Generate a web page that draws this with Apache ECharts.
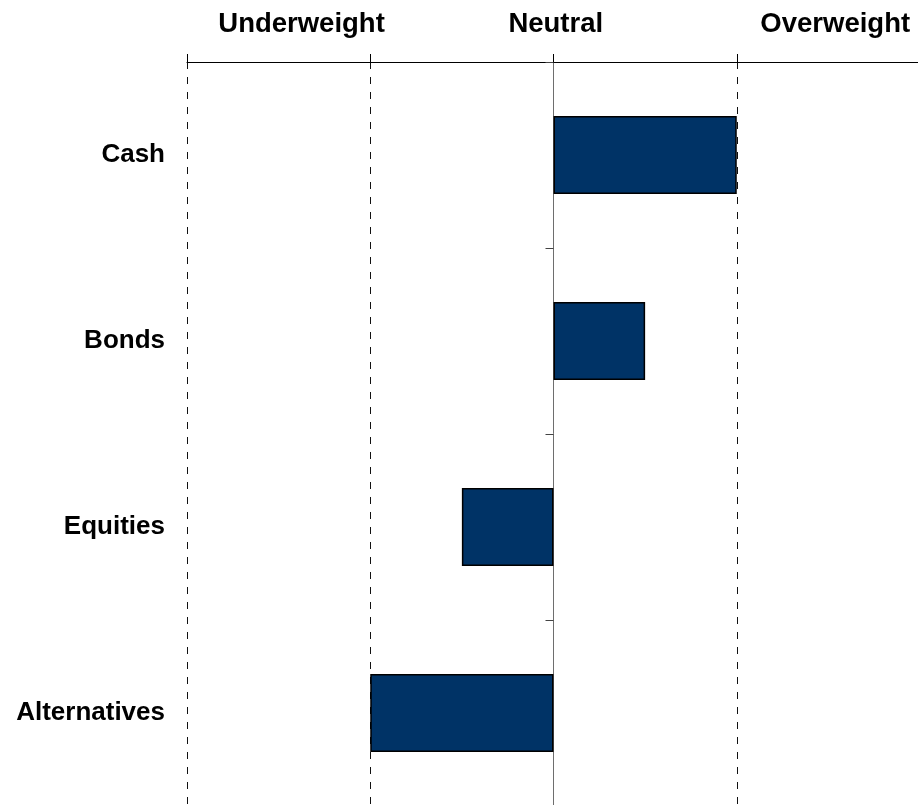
<!DOCTYPE html>
<html>
<head>
<meta charset="utf-8">
<script src="https://cdn.jsdelivr.net/npm/echarts@6/dist/echarts.min.js"></script>
<style>
  html, body { margin: 0; padding: 0; background: #fff; }
  #chart { width: 918px; height: 805px; }
</style>
</head>
<body>
<div id="chart"></div>
<script>
// Asset classes, top to bottom
const categories = ['Cash', 'Bonds', 'Equities', 'Alternatives'];
// Positioning relative to neutral (-2 .. 2)
const positioning = [1, 0.5, -0.5, -1];
// Header captions along the top axis
const headerLabels = ['Underweight', 'Neutral', 'Overweight'];

// where each caption sits on the scale
const headerAt = [-1.375, 0.0125, 1.5375];

const FONT = '"Liberation Sans", Arial, Helvetica, sans-serif';
const chart = echarts.init(document.getElementById('chart'), null, { renderer: 'canvas' });

chart.setOption({
  animation: false,
  backgroundColor: '#ffffff',
  grid: {
    left: 187, width: 733, top: 62, height: 744,
    containLabel: false,
    outerBoundsMode: 'none'
  },
  xAxis: [
    {
      type: 'value',
      position: 'top',
      min: -2, max: 2, interval: 1,
      axisLine: { show: true, onZero: false, lineStyle: { color: '#000', width: 1 } },
      axisTick: { show: true, inside: false, length: 8, lineStyle: { color: '#000', width: 1 } },
      axisLabel: { show: false },
      splitLine: {
        show: true,
        lineStyle: {
          color: ['#111', '#111', 'rgba(0,0,0,0)', '#111', '#111'],
          width: 1,
          type: [7, 8]
        }
      }
    },
    {
      type: 'value',
      position: 'top',
      min: -2, max: 2, interval: 0.0125,
      axisLine: { show: false, onZero: false },
      axisTick: { show: false },
      splitLine: { show: false },
      axisLabel: {
        show: true,
        margin: 24,
        fontFamily: FONT,
        fontWeight: 'bold',
        fontSize: 27.5,
        color: '#000',
        formatter: function (v) {
          for (let i = 0; i < headerAt.length; i++) {
            if (Math.abs(v - headerAt[i]) < 1e-6) return headerLabels[i];
          }
          return '';
        }
      }
    }
  ],
  yAxis: [
    {
      type: 'category',
      inverse: true,
      data: categories,
      position: 'left',
      axisLine: { show: false, onZero: false },
      axisTick: { show: false },
      splitLine: { show: false },
      axisLabel: {
        margin: 22,
        fontFamily: FONT,
        fontWeight: 'bold',
        fontSize: 26,
        color: '#000'
      }
    },
    {
      type: 'category',
      inverse: true,
      data: categories,
      position: 'left',
      axisLine: { show: true, onZero: true, onZeroAxisIndex: 0, lineStyle: { color: '#6e6e6e', width: 1 } },
      axisTick: { show: true, inside: false, length: 8, lineStyle: { color: '#444', width: 1 } },
      axisLabel: { show: false },
      splitLine: { show: false }
    }
  ],
  series: [
    {
      type: 'bar',
      xAxisIndex: 0,
      yAxisIndex: 0,
      data: positioning,
      barWidth: 78,
      itemStyle: { color: '#003366', borderColor: '#000', borderWidth: 1.5 },
      z: 3
    }
  ]
});
</script>
</body>
</html>
